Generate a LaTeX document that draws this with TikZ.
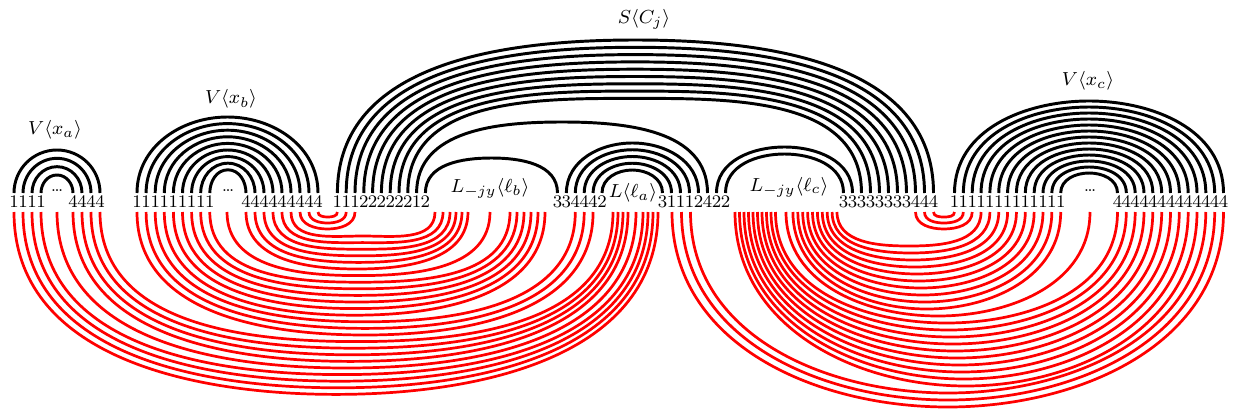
\documentclass[tikz,border=0pt]{standalone}
\begin{document}
\begin{tikzpicture}[x=0.4237pt,y=0.4237pt,
  blk/.style={line width=1.25pt,black},
  rd/.style={line width=1.15pt,red},
  dig/.style={font=\fontsize{7.5}{9}\selectfont,inner sep=0pt,anchor=base},
  lab/.style={font=\fontsize{8.5}{10}\selectfont,inner sep=0pt},
  dts/.style={font=\fontsize{7}{8}\selectfont,inner sep=0pt}]
\def\yb{193}\def\yr{212}
\useasboundingbox (0,0) rectangle (1233,-414);
\newcommand\TopArc[3]{\pgfmathsetmacro\mx{((#1)+(#2))/2}%
  \draw[blk] (#1,-\yb) to[out=90,in=180] (\mx,-#3) to[out=0,in=90] (#2,-\yb);}
\newcommand\BotArc[3]{\pgfmathsetmacro\mx{((#1)+(#2))/2}%
  \draw[rd] (#1,-\yr) to[out=-90,in=180] (\mx,-#3) to[out=0,in=-90] (#2,-\yr);}
\newcommand\TopBundle[7]{\foreach \i in {0,...,#1}{%
  \pgfmathsetmacro\xxa{#2+#3*\i}\pgfmathsetmacro\xxb{#4-#5*\i}\pgfmathsetmacro\hhh{#6+#7*\i}%
  \TopArc{\xxa}{\xxb}{\hhh}}}
\newcommand\DigitRow[4]{\foreach \d [count=\k from 0] in {#4}{\node[dig] (#1-\k) at ({#2+#3*\k},-207) {\d};}}

% ---------- black (top) arcs ----------
\TopBundle{3}{14}{9}{100}{9}{150}{8.33}
\TopBundle{8}{137}{9.1}{318}{9}{117}{6.6}
\TopBundle{8}{337.4}{8.8}{933.5}{9}{40}{7.3}
\TopArc{416.6}{707.5}{122}
\TopArc{425.4}{557.5}{158}
\TopBundle{4}{566.4}{8.9}{698.5}{9}{143}{6.75}
\TopArc{716.5}{852.5}{147}
\TopArc{725.5}{843.5}{154}
\TopBundle{12}{954.5}{8.85}{1223.5}{8.833}{101}{6}

% ---------- red (bottom) arcs ----------
\foreach \a/\b [count=\k from 0] in {291/435,282/443,273/450,264/456,255/462,246/468,227/490,
  209.8/510,200.7/517,191.6/524,182.5/531,173.4/538,164.3/545,155.2/575.3,146.1/584.2,137/593.1,
  100/613,91/618,82/623,73/628,57/636,41/643,32/648,23/653,14/658}{%
  \pgfmathsetmacro\ddd{236+6.6*\k}\BotArc{\a}{\b}{\ddd}}
\foreach \a/\b [count=\k from 0] in {837/981.05,832.1/989.9,827.2/998.75,822.3/1007.6,817.4/1016.45,
  812.5/1025.3,807.6/1034.15,802.7/1043,797.8/1051.85,792.9/1060.7,786/1090,
  775.5/1117.5,771/1126.3,766.5/1135.2,762/1144,757.5/1152.8,753/1161.7,748.5/1170.5,744/1179.3,
  739.5/1188.2,735/1197,690.5/1205.8,681.5/1214.7,672/1223.5}{%
  \pgfmathsetmacro\ddd{246+7*\k}\BotArc{\a}{\b}{\ddd}}
\foreach \a/\b/\c in {318/337.4/217,309/346.2/223,300/355/229,
  933.5/954.5/217,924.5/963.35/223,915.5/972.2/229}{\BotArc{\a}{\b}{\c}}

% ---------- digits ----------
\DigitRow{a1}{14}{9}{1,1,1,1}
\DigitRow{a4}{73}{9}{4,4,4,4}
\DigitRow{b1}{137}{9.1}{1,1,1,1,1,1,1,1,1}
\DigitRow{b4}{246}{9}{4,4,4,4,4,4,4,4,4}
\DigitRow{c}{337.4}{8.8}{1,1,1,2,2,2,2,2,2,1,2}
\DigitRow{d}{557.5}{8.9}{3,3,4,4,4,2}
\DigitRow{e}{662.5}{9}{3,1,1,1,2,4,2,2}
\DigitRow{f}{843.5}{9}{3,3,3,3,3,3,3,3,4,4,4}
\DigitRow{g1}{954.5}{8.85}{1,1,1,1,1,1,1,1,1,1,1,1,1}
\DigitRow{g4}{1117.5}{8.833}{4,4,4,4,4,4,4,4,4,4,4,4,4}
\node[dts] (dotsA) at (57,-191) {\ldots};
\node[dts] (dotsB) at (228,-191) {\ldots};
\node[dts] (dotsC) at (1090,-191) {\ldots};

% ---------- labels ----------
\node[lab] (Vxa) at (55,-130) {$V\langle x_a\rangle$};
\node[lab] (Vxb) at (231,-99) {$V\langle x_b\rangle$};
\node[lab] (SCj) at (644,-19) {$S\langle C_j\rangle$};
\node[lab] (Vxc) at (1088,-81) {$V\langle x_c\rangle$};
\node[lab] (Lb) at (490,-188) {$L_{-jy}\langle \ell_b\rangle$};
\node[lab] (La) at (633,-193) {$L\langle \ell_a\rangle$};
\node[lab] (Lc) at (789,-187) {$L_{-jy}\langle \ell_c\rangle$};
\end{tikzpicture}
\end{document}
